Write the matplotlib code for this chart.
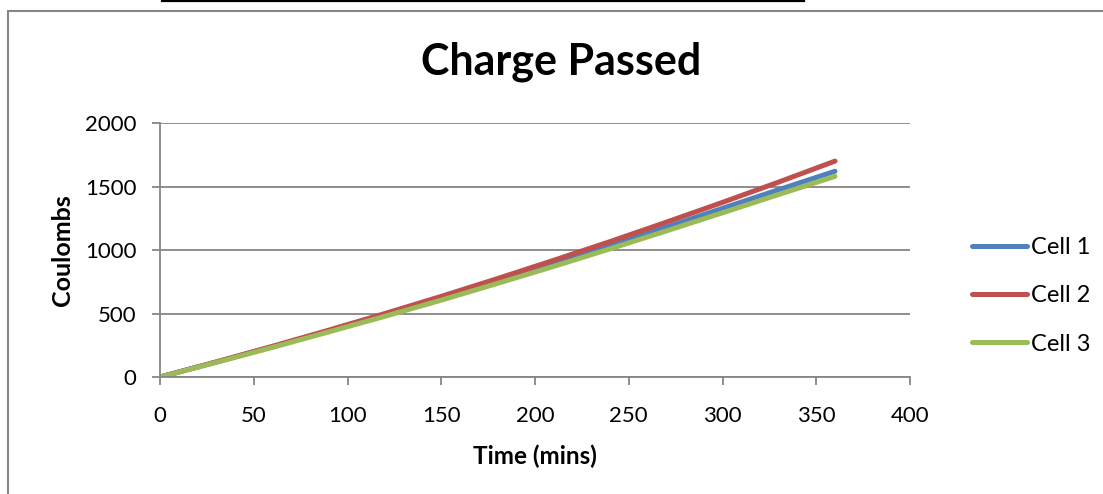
import matplotlib.pyplot as plt
from matplotlib.patches import Rectangle
from matplotlib.lines import Line2D

plt.rcParams['font.family'] = ['Lato', 'DejaVu Sans']

time = [0, 30, 60, 90, 120, 150, 180, 210, 240, 270, 300, 330, 360]
cell1 = [0, 118, 239, 363, 490, 620, 755, 893, 1035, 1180, 1328, 1475, 1620]
cell2 = [0, 119, 242, 369, 500, 635, 775, 919, 1066, 1219, 1375, 1535, 1700]
cell3 = [0, 115, 233, 355, 478, 605, 737, 871, 1009, 1150, 1293, 1437, 1580]
names = ['Cell 1', 'Cell 2', 'Cell 3']
colors = ['#4F81BD', '#C0504D', '#9BBB59']

W, H = 1103, 494
fig = plt.figure(figsize=(W / 100, H / 100), dpi=100)

# chart frame and the black rule above it
fig.add_artist(Rectangle((8 / W, -0.1), 1.2, 1 - 11 / H + 0.1, transform=fig.transFigure,
                         fill=False, edgecolor='#868686', linewidth=1.5))
fig.add_artist(Line2D([162 / W, 804 / W], [1 - 0.8 / H, 1 - 0.8 / H], transform=fig.transFigure,
                      color='black', linewidth=1.6))

ax = fig.add_axes([160 / W, 1 - 377 / H, 750 / W, 254 / H])

for ys, name, c in zip([cell1, cell2, cell3], names, colors):
    ax.plot(time, ys, color=c, linewidth=3.6, solid_capstyle='round', label=name)

ax.set_xlim(0, 400)
ax.set_ylim(0, 2000)
ax.set_xticks(range(0, 401, 50))
ax.set_yticks(range(0, 2001, 500))
ax.grid(axis='y', color='#868686', linewidth=1.3)
ax.set_axisbelow(True)
for s in ['top', 'right']:
    ax.spines[s].set_visible(False)
for s in ['left', 'bottom']:
    ax.spines[s].set_color('#868686')
    ax.spines[s].set_linewidth(1.3)
ax.tick_params(direction='out', length=6, width=1.3, color='#868686', labelsize=16)
ax.tick_params(axis='x', pad=15)
ax.tick_params(axis='y', pad=11)

fig.text(561 / W, 1 - 62 / H, 'Charge Passed', fontsize=31, fontweight='bold',
         ha='center', va='center')
ax.set_xlabel('Time (mins)', fontsize=17.5, fontweight='bold', labelpad=13)
ax.set_ylabel('Coulombs', fontsize=18, fontweight='bold', labelpad=8)

ax.legend(loc='center left', bbox_to_anchor=(951 / W, 1 - 296 / H), bbox_transform=fig.transFigure,
          frameon=False, fontsize=17, handlelength=2.3, handletextpad=0.2, labelspacing=1.15)

fig.savefig('out.png', dpi=100)
